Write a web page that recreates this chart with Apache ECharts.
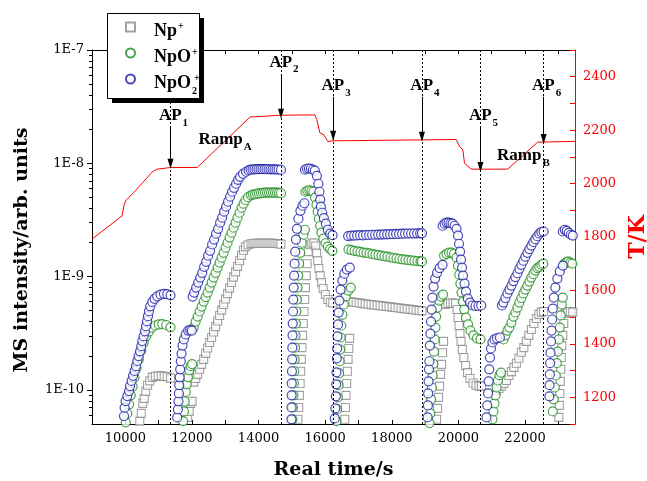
<!DOCTYPE html>
<html><head><meta charset="utf-8">
<script src="https://cdn.jsdelivr.net/npm/echarts@6/dist/echarts.min.js"></script>
<style>html,body{margin:0;padding:0;background:#fff}#c{width:647px;height:481px}</style>
</head><body><div id="c"></div>
<script>
// ---------- axis ticks / labels ----------
const xTickLabels = [10000, 12000, 14000, 16000, 18000, 20000, 22000];
const xTickValues = [9000,10000,11000,12000,13000,14000,15000,16000,17000,18000,19000,20000,21000,22000,23000];
const yDecades = [1e-10, 1e-9, 1e-8, 1e-7];
const yMinorTicks = [6e-11,7e-11,8e-11,9e-11,2e-10,3e-10,4e-10,5e-10,6e-10,7e-10,8e-10,9e-10,
  2e-9,3e-9,4e-9,5e-9,6e-9,7e-9,8e-9,9e-9,2e-8,3e-8,4e-8,5e-8,6e-8,7e-8,8e-8,9e-8];
const tempLabels = [1200, 1400, 1600, 1800, 2000, 2200, 2400];

// ---------- annotations ----------
const apTimes = [11357, 14673, 16239, 18905, 20662, 22558];
const apNames = ['1', '2', '3', '4', '5', '6'];
const apArrowTop = [2209, 2407, 2325, 2325, 2212, 2325];
const apArrowTip = [2074, 2261, 2179, 2175, 2062, 2167];
const apLabelT = [2252, 2451, 2364, 2364, 2252, 2364];
const rampNames = ['A', 'B'];
const rampTimes = [12995, 21950];
const rampLabelT = [2162, 2102];

// ---------- temperature (T/K) ----------
const tempPoints = [[9000,1792],[9901,1879],[9970,1924],[10030,1939],[10240,1965],[10540,2006],[10810,2044],
  [10960,2054],[11350,2060],[12157,2060],[13745,2249],[14700,2256],[15690,2257],[15750,2239],[15840,2190],
  [15960,2183],[16080,2157],[16200,2160],[19934,2165],[20033,2139],[20133,2126],[20183,2076],[20384,2054],
  [21480,2054],[22379,2155],[23500,2158]];

// ---------- Np+ ----------
const npPoints = [
  [10435,5.3e-11],[10480,6.2e-11],[10524,7.6e-11],[10569,8.42e-11],[10614,9.7e-11],[10668,1.10e-10],[10734,1.20e-10],
  [10809,1.29e-10],[10899,1.32e-10],[10989,1.33e-10],[11079,1.33e-10],[11168,1.32e-10],[11258,1.31e-10],[11357,1.27e-10],
  [11872,5.72e-11],[11917,6.46e-11],[11962,7.6e-11],[12007,7.92e-11],
  [12052,1.17e-10],[12112,1.26e-10],[12172,1.37e-10],[12232,1.52e-10],[12292,1.68e-10],[12352,1.86e-10],[12412,2.10e-10],
  [12471,2.34e-10],[12531,2.62e-10],[12591,2.90e-10],[12651,3.24e-10],[12711,3.62e-10],[12771,4.05e-10],[12831,4.54e-10],
  [12891,5.06e-10],[12950,5.67e-10],[13010,6.34e-10],[13070,7.08e-10],[13130,7.91e-10],[13190,8.86e-10],[13250,9.9e-10],
  [13310,1.1e-9],[13370,1.23e-9],[13430,1.38e-9],[13490,1.54e-9],[13550,1.71e-9],[13609,1.84e-9],[13684,1.91e-9],
  [13774,1.95e-9],[13834,1.96e-9],[13894,1.97e-9],[13954,1.97e-9],[14014,1.97e-9],[14074,1.97e-9],[14134,1.97e-9],
  [14194,1.97e-9],[14254,1.97e-9],[14314,1.97e-9],[14374,1.97e-9],[14434,1.97e-9],[14494,1.96e-9],[14554,1.96e-9],
  [14614,1.95e-9],[14673,1.93e-9],
  [15182,5.5e-11],[15206,7.0e-11],[15227,8.95e-11],[15248,1.14e-10],[15266,1.46e-10],[15284,1.86e-10],[15302,2.36e-10],
  [15323,3.03e-10],[15344,3.85e-10],[15364,4.92e-10],[15385,6.27e-10],[15406,8.0e-10],[15431,1.02e-9],[15457,1.30e-9],
  [15490,1.66e-9],[15541,1.91e-9],[15601,1.98e-9],[15661,1.98e-9],[15715,1.86e-9],[15745,1.61e-9],[15775,1.38e-9],
  [15811,1.18e-9],[15850,1.02e-9],[15892,8.86e-10],[15940,7.84e-10],[16005,6.94e-10],[16080,6.27e-10],[16155,5.96e-10],
  [16230,5.84e-10],
  [16589,5.5e-11],[16607,7.0e-11],[16625,8.95e-11],[16646,1.14e-10],[16667,1.46e-10],[16688,1.86e-10],[16709,2.32e-10],
  [16733,2.85e-10],
  [16750,6.0e-10],[16840,5.95e-10],[16930,5.9e-10],[17020,5.85e-10],[17110,5.8e-10],[17200,5.75e-10],[17290,5.7e-10],
  [17380,5.66e-10],[17470,5.62e-10],[17560,5.58e-10],[17650,5.54e-10],[17740,5.5e-10],[17830,5.46e-10],[17920,5.42e-10],
  [18010,5.38e-10],[18100,5.34e-10],[18190,5.3e-10],[18280,5.26e-10],[18370,5.22e-10],[18460,5.18e-10],[18550,5.14e-10],
  [18640,5.1e-10],[18730,5.06e-10],[18820,5.02e-10],[18905,4.98e-10],
  [19344,5.5e-11],[19374,6.87e-11],[19404,8.59e-11],[19434,1.08e-10],[19464,1.37e-10],[19494,1.68e-10],[19524,2.13e-10],
  [19554,2.68e-10],
  [19614,5.67e-10],[19689,5.78e-10],[19764,5.84e-10],[19839,5.84e-10],[19914,5.78e-10],[19959,5.12e-10],[19989,4.35e-10],
  [20019,3.70e-10],[20049,3.14e-10],[20079,2.68e-10],[20118,2.27e-10],[20163,1.93e-10],[20213,1.64e-10],[20273,1.42e-10],
  [20348,1.26e-10],[20438,1.15e-10],[20528,1.10e-10],[20618,1.08e-10],[20693,1.08e-10],
  [21142,9.9e-11],[21217,1.03e-10],[21292,1.08e-10],[21366,1.14e-10],[21441,1.21e-10],[21516,1.34e-10],[21591,1.45e-10],
  [21666,1.58e-10],[21741,1.72e-10],[21816,1.90e-10],[21890,2.15e-10],[21965,2.36e-10],[22040,2.68e-10],[22115,3.03e-10],
  [22190,3.41e-10],[22265,3.85e-10],[22340,4.27e-10],[22415,4.64e-10],[22489,4.86e-10],[22558,4.92e-10],
  [23014,5.72e-11],[23029,7.3e-11],[23044,9.3e-11],[23059,1.19e-10],[23074,1.52e-10],[23089,1.93e-10],[23103,2.46e-10],
  [23133,3.03e-10],[23163,3.85e-10],[23208,4.72e-10],[23283,4.86e-10],[23358,4.92e-10],[23433,4.86e-10]
];

// ---------- NpO+ ----------
const npoPoints = [
  [10015,5.17e-11],[10060,6.2e-11],[10114,7.46e-11],[10165,8.95e-11],[10219,1.07e-10],[10276,1.29e-10],[10336,1.55e-10],
  [10405,1.86e-10],[10480,2.22e-10],[10554,2.62e-10],[10629,2.97e-10],[10704,3.27e-10],[10794,3.55e-10],[10899,3.70e-10],
  [11004,3.78e-10],[11108,3.81e-10],[11228,3.74e-10],[11357,3.57e-10],
  [11737,5.3e-11],[11761,6.46e-11],[11785,7.9e-11],[11815,9.6e-11],[11845,1.12e-10],[11881,1.29e-10],[11917,1.49e-10],
  [11962,1.62e-10],[12007,1.69e-10],
  [12052,3.55e-10],[12112,4.01e-10],[12172,4.44e-10],[12232,4.92e-10],[12292,5.44e-10],[12352,6.02e-10],[12412,6.6e-10],
  [12471,7.23e-10],[12531,8.0e-10],[12591,8.86e-10],[12651,9.8e-10],[12711,1.08e-9],[12771,1.2e-9],[12831,1.33e-9],
  [12891,1.47e-9],[12950,1.62e-9],[13010,1.80e-9],[13070,1.99e-9],[13130,2.21e-9],[13190,2.44e-9],[13250,2.70e-9],
  [13310,2.99e-9],[13370,3.31e-9],[13430,3.66e-9],[13490,4.06e-9],[13550,4.40e-9],[13609,4.72e-9],[13684,5.02e-9],
  [13774,5.22e-9],[13834,5.30e-9],[13894,5.33e-9],[13954,5.38e-9],[14014,5.42e-9],[14074,5.45e-9],[14134,5.48e-9],
  [14194,5.50e-9],[14254,5.52e-9],[14314,5.52e-9],[14374,5.52e-9],[14434,5.52e-9],[14494,5.52e-9],[14554,5.50e-9],
  [14614,5.48e-9],[14673,5.44e-9],
  [15017,5.5e-11],[15032,7.0e-11],[15047,8.95e-11],[15062,1.14e-10],[15074,1.46e-10],[15086,1.86e-10],[15098,2.36e-10],
  [15110,3.03e-10],[15122,3.85e-10],[15137,4.92e-10],[15152,6.27e-10],[15170,8.0e-10],[15191,1.02e-9],[15218,1.30e-9],
  [15251,1.62e-9],[15296,1.99e-9],[15347,2.34e-9],[15392,2.59e-9],
  [15406,5.61e-9],[15466,5.72e-9],[15526,5.78e-9],[15586,5.72e-9],[15646,5.61e-9],[15700,4.97e-9],[15739,4.31e-9],
  [15775,3.74e-9],[15811,3.24e-9],[15850,2.81e-9],[15889,2.44e-9],[15946,2.16e-9],[16011,1.97e-9],[16080,1.84e-9],
  [16149,1.75e-9],[16215,1.69e-9],
  [16335,5.3e-11],[16356,6.73e-11],[16380,8.59e-11],[16401,1.10e-10],[16419,1.40e-10],[16434,1.79e-10],[16449,2.27e-10],
  [16464,2.90e-10],[16485,3.70e-10],[16515,4.6e-10],[16560,5.67e-10],[16620,6.7e-10],[16695,7.52e-10],[16769,8.0e-10],
  [16700,1.74e-9],[16790,1.71e-9],[16880,1.69e-9],[16970,1.67e-9],[17060,1.65e-9],[17150,1.63e-9],[17240,1.62e-9],
  [17330,1.60e-9],[17420,1.58e-9],[17510,1.56e-9],[17600,1.55e-9],[17690,1.53e-9],[17780,1.51e-9],[17870,1.50e-9],
  [17960,1.48e-9],[18050,1.46e-9],[18140,1.45e-9],[18230,1.43e-9],[18320,1.42e-9],[18410,1.41e-9],[18500,1.40e-9],
  [18590,1.39e-9],[18680,1.38e-9],[18770,1.37e-9],[18860,1.36e-9],[18905,1.36e-9],
  [19135,5.1e-11],[19156,6.2e-11],[19180,8.25e-11],[19204,1.05e-10],[19225,1.34e-10],[19246,1.70e-10],[19267,2.18e-10],
  [19288,2.79e-10],[19309,3.55e-10],[19333,4.44e-10],[19369,5.33e-10],[19420,6.14e-10],[19480,6.66e-10],[19540,6.94e-10],
  [19570,1.53e-9],[19644,1.59e-9],[19719,1.63e-9],[19794,1.63e-9],[19869,1.59e-9],[19944,1.47e-9],[19989,1.25e-9],
  [20025,1.04e-9],[20058,8.68e-10],[20094,7.23e-10],[20133,6.02e-10],[20178,5.12e-10],[20228,4.35e-10],[20288,3.79e-10],
  [20363,3.34e-10],[20453,3.03e-10],[20558,2.85e-10],[20663,2.79e-10],
  [21022,5.5e-11],[21052,6.46e-11],[21082,7.6e-11],[21112,8.95e-11],[21148,1.05e-10],[21187,1.21e-10],[21232,1.35e-10],
  [21277,1.42e-10],
  [21351,2.79e-10],[21411,3.03e-10],[21471,3.34e-10],[21531,3.55e-10],[21591,3.93e-10],[21651,4.44e-10],[21711,4.82e-10],
  [21771,5.33e-10],[21830,5.9e-10],[21890,6.47e-10],[21950,7.1e-10],[22010,7.68e-10],[22070,8.33e-10],[22130,9.04e-10],
  [22190,9.8e-10],[22250,1.05e-9],[22310,1.13e-9],[22369,1.19e-9],[22429,1.22e-9],[22489,1.27e-9],[22549,1.30e-9],
  [22834,6.46e-11],[22864,8.25e-11],[22894,1.05e-10],[22924,1.34e-10],[22954,1.72e-10],[22984,2.18e-10],[23014,2.79e-10],
  [23044,3.55e-10],[23073,4.54e-10],[23103,5.67e-10],[23133,6.53e-10],
  [23178,1.30e-9],[23238,1.34e-9],[23298,1.36e-9],[23358,1.33e-9],[23418,1.30e-9]
];

// ---------- NpO2+ ----------
const npo2Points = [
  [9961,5.88e-11],[9979,6.97e-11],[10009,7.97e-11],[10060,8.82e-11],[10111,9.76e-11],[10141,1.08e-10],[10189,1.20e-10],
  [10231,1.33e-10],[10279,1.47e-10],[10321,1.62e-10],[10360,1.80e-10],[10399,1.99e-10],[10441,2.19e-10],[10480,2.43e-10],
  [10510,2.70e-10],[10548,2.98e-10],[10590,3.29e-10],[10620,3.65e-10],[10650,4.04e-10],[10680,4.47e-10],[10710,4.95e-10],
  [10749,5.47e-10],[10809,5.98e-10],[10878,6.36e-10],[10959,6.70e-10],[11058,6.94e-10],[11159,7.04e-10],[11258,7.00e-10],
  [11357,6.84e-10],
  [11558,5.72e-11],[11579,6.73e-11],[11597,7.92e-11],[11609,9.31e-11],[11618,1.10e-10],[11633,1.29e-10],[11648,1.52e-10],
  [11666,1.79e-10],[11687,2.09e-10],[11717,2.46e-10],[11759,2.79e-10],[11812,3.09e-10],[11887,3.34e-10],[11950,3.38e-10],
  [11998,3.34e-10],
  [12022,6.66e-10],[12067,7.23e-10],[12127,8.0e-10],[12187,8.86e-10],[12247,9.8e-10],[12307,1.08e-9],[12367,1.22e-9],
  [12426,1.35e-9],[12486,1.53e-9],[12546,1.69e-9],[12606,1.92e-9],[12666,2.12e-9],[12726,2.39e-9],[12786,2.64e-9],
  [12846,2.99e-9],[12906,3.31e-9],[12966,3.74e-9],[13025,4.14e-9],[13085,4.58e-9],[13145,5.07e-9],[13205,5.61e-9],
  [13265,6.08e-9],[13325,6.60e-9],[13385,7.15e-9],[13445,7.60e-9],[13534,8.08e-9],[13624,8.42e-9],[13700,8.65e-9],
  [13760,8.78e-9],[13820,8.82e-9],[13880,8.85e-9],[13940,8.87e-9],[14000,8.88e-9],[14060,8.88e-9],[14120,8.88e-9],
  [14180,8.88e-9],[14240,8.87e-9],[14300,8.86e-9],[14360,8.85e-9],[14420,8.84e-9],[14480,8.83e-9],[14540,8.82e-9],
  [14600,8.80e-9],[14673,8.77e-9],
  [14987,5.5e-11],[14990,7.0e-11],[14993,8.95e-11],[14996,1.14e-10],[15002,1.46e-10],[15008,1.86e-10],[15014,2.36e-10],
  [15020,3.03e-10],[15026,3.85e-10],[15035,4.92e-10],[15044,6.27e-10],[15056,8.0e-10],[15068,1.02e-9],[15083,1.30e-9],
  [15101,1.66e-9],[15122,2.12e-9],[15152,2.64e-9],[15197,3.24e-9],[15257,3.81e-9],[15317,4.22e-9],[15376,4.44e-9],
  [15392,8.77e-9],[15451,8.95e-9],[15511,9.0e-9],[15571,8.95e-9],[15631,8.77e-9],[15691,8.6e-9],[15751,7.76e-9],
  [15796,6.60e-9],[15826,5.61e-9],[15850,4.77e-9],[15871,4.14e-9],[15910,3.66e-9],[15960,3.28e-9],[16020,2.93e-9],
  [16080,2.59e-9],[16149,2.39e-9],[16221,2.32e-9],
  [16289,5.6e-11],[16305,6.87e-11],[16320,8.77e-11],[16332,1.12e-10],[16341,1.43e-10],[16350,1.90e-10],[16359,2.32e-10],
  [16371,2.97e-10],[16386,3.78e-10],[16404,4.81e-10],[16428,6.14e-10],[16464,7.68e-10],[16515,9.22e-10],[16575,1.06e-9],
  [16650,1.153e-9],[16739,1.20e-9],
  [16690,2.28e-9],[16780,2.30e-9],[16870,2.30e-9],[16960,2.31e-9],[17050,2.32e-9],[17140,2.31e-9],[17230,2.33e-9],
  [17320,2.33e-9],[17410,2.34e-9],[17500,2.34e-9],[17590,2.35e-9],[17680,2.35e-9],[17770,2.36e-9],[17860,2.36e-9],
  [17950,2.37e-9],[18040,2.37e-9],[18130,2.38e-9],[18220,2.38e-9],[18310,2.39e-9],[18400,2.39e-9],[18490,2.40e-9],
  [18580,2.40e-9],[18670,2.40e-9],[18760,2.41e-9],[18850,2.41e-9],[18905,2.41e-9],
  [19075,5.72e-11],[19084,7.3e-11],[19093,9.31e-11],[19105,1.19e-10],[19117,1.52e-10],[19129,1.79e-10],[19144,2.46e-10],
  [19159,3.14e-10],[19177,4.01e-10],[19195,5.12e-10],[19219,6.53e-10],[19255,8.16e-10],[19300,9.6e-10],[19360,1.08e-9],
  [19434,1.19e-9],[19524,1.27e-9],
  [19525,2.81e-9],[19585,2.93e-9],[19644,3.0e-9],[19704,3.0e-9],[19764,2.96e-9],[19824,2.93e-9],[19884,2.81e-9],
  [19944,2.64e-9],[19989,2.30e-9],[20019,1.95e-9],[20049,1.66e-9],[20079,1.41e-9],[20109,1.2e-9],[20138,1.02e-9],
  [20183,8.68e-10],[20228,7.37e-10],[20282,6.4e-10],[20348,5.9e-10],[20423,5.56e-10],[20513,5.5e-10],[20603,5.5e-10],
  [20684,5.56e-10],
  [20842,5.72e-11],[20866,7.3e-11],[20890,9.31e-11],[20908,1.19e-10],[20926,1.52e-10],[20947,1.93e-10],[20977,2.32e-10],
  [21022,2.62e-10],[21082,2.79e-10],[21157,2.85e-10],[21246,2.9e-10],
  [21307,5.56e-10],[21351,5.9e-10],[21411,6.47e-10],[21471,7.1e-10],[21531,7.68e-10],[21591,8.33e-10],[21651,9.13e-10],
  [21711,9.9e-10],[21771,1.07e-9],[21830,1.17e-9],[21890,1.27e-9],[21950,1.38e-9],[22010,1.50e-9],[22070,1.62e-9],
  [22130,1.75e-9],[22190,1.88e-9],[22250,2.02e-9],[22310,2.14e-9],[22369,2.27e-9],[22429,2.39e-9],[22489,2.47e-9],
  [22558,2.5e-9],
  [22730,8.77e-11],[22736,1.10e-10],[22745,1.37e-10],[22754,1.72e-10],[22765,2.13e-10],[22780,2.68e-10],[22795,3.34e-10],
  [22813,4.18e-10],[22834,5.22e-10],[22864,6.53e-10],[22909,8.0e-10],[22969,9.6e-10],[23044,1.11e-9],[23134,1.25e-9],
  [23134,2.5e-9],[23193,2.59e-9],[23253,2.53e-9],[23313,2.43e-9],[23373,2.34e-9],[23433,2.30e-9]
];

const seriesNames = ['Np+', 'NpO+', 'NpO2+'];
const legendText = {'Np+': '{b|Np}{p|+}', 'NpO+': '{b|NpO}{p|+}', 'NpO2+': '{b|NpO}{s|2}{p|+}'};

const GRAY = '#8a8a8a', GREEN = '#1e8c1e', BLUE = '#1c1ca8', RED = '#ff0000';
const BOLD = 'Liberation Serif';
const SERIF = 'DejaVu Serif';

const annoRich = {
  a: {fontFamily: BOLD, fontWeight: 'bold', fontSize: 17, color: '#000', lineHeight: 18, verticalAlign: 'top'},
  s: {fontFamily: BOLD, fontWeight: 'bold', fontSize: 11, color: '#000', lineHeight: 11, verticalAlign: 'top', padding: [10, 0, 0, 1]}
};

const chart = echarts.init(document.getElementById('c'), null, {renderer: 'canvas'});

const markLineData = apTimes.map(t => ({xAxis: t, lineStyle: {color: '#000', width: 1, type: [2, 2]}}))
  .concat(apTimes.map((t, i) => [
    {coord: [t, apArrowTop[i]], symbol: 'none', lineStyle: {color: '#000', width: 1, type: 'solid'}},
    {coord: [t, apArrowTip[i]], symbol: 'triangle', symbolSize: [6, 10], symbolRotate: 180}
  ]));

const markPointData = apTimes.map((t, i) => ({
  coord: [t, apLabelT[i]],
  label: {formatter: '{a|AP}{s|' + apNames[i] + '}', offset: [3, 0]}
})).concat(rampTimes.map((t, i) => ({
  coord: [t, rampLabelT[i]],
  label: {formatter: '{a|Ramp}{s|' + rampNames[i] + '}'}
})));

const option = {
  animation: false,
  backgroundColor: '#fff',
  grid: {left: 92, right: 72, top: 50, bottom: 57, containLabel: false, outerBoundsMode: 'none'},
  graphic: [
    {type: 'rect', z: 15, shape: {x: 112, y: 18, width: 92, height: 85}, style: {fill: '#000'}, silent: true},
    {type: 'rect', z: 16, shape: {x: 107.5, y: 13.5, width: 92, height: 85}, style: {fill: '#fff', stroke: '#000', lineWidth: 1}, silent: true}
  ],
  legend: {
    data: seriesNames,
    orient: 'vertical', left: 107, top: 13, z: 20,
    padding: [5, 4, 3, 18], itemGap: 4, itemWidth: 9, itemHeight: 9,
    backgroundColor: 'transparent', borderWidth: 0,
    formatter: n => legendText[n],
    textStyle: {
      rich: {
        b: {fontFamily: BOLD, fontWeight: 'bold', fontSize: 18, color: '#000', lineHeight: 18, padding: [4, 0, 0, 14], verticalAlign: 'top'},
        p: {fontFamily: BOLD, fontWeight: 'bold', fontSize: 10, color: '#000', lineHeight: 10, padding: [3, 0, 0, 1], verticalAlign: 'top'},
        s: {fontFamily: BOLD, fontWeight: 'bold', fontSize: 10, color: '#000', lineHeight: 10, padding: [16, 0, 0, 1], verticalAlign: 'top', width: 1}
      }
    }
  },
  xAxis: [
    {
      type: 'value', min: 9000, max: 23500, position: 'bottom',
      name: 'Real time/s', nameLocation: 'middle', nameGap: 37,
      nameTextStyle: {fontFamily: SERIF, fontWeight: 'bold', fontSize: 19, color: '#000'},
      axisLine: {show: true, lineStyle: {color: '#000', width: 1}},
      axisTick: {show: true, inside: true, length: 4, customValues: xTickValues, lineStyle: {color: '#000'}},
      axisLabel: {customValues: xTickLabels, margin: 8, fontFamily: SERIF, fontSize: 13, color: '#000', formatter: v => String(v)},
      splitLine: {show: false}
    },
    {
      type: 'value', min: 9000, max: 23500, position: 'top',
      axisLine: {show: true, lineStyle: {color: '#000', width: 1}},
      axisTick: {show: true, inside: true, length: 4, customValues: xTickValues, lineStyle: {color: '#000'}},
      axisLabel: {show: false}, splitLine: {show: false}
    }
  ],
  yAxis: [
    {
      type: 'log', logBase: 10, min: 5e-11, max: 1e-7, position: 'left',
      name: 'MS intensity/arb. units', nameLocation: 'middle', nameRotate: 90, nameGap: 60,
      nameTextStyle: {fontFamily: SERIF, fontWeight: 'bold', fontSize: 19, color: '#000', padding: [0, 26, 0, 0]},
      axisLine: {show: true, lineStyle: {color: '#000', width: 1}},
      axisTick: {show: true, inside: false, length: 5, customValues: yDecades, lineStyle: {color: '#000'}},
      axisLabel: {customValues: yDecades, margin: 8, fontFamily: SERIF, fontSize: 13, color: '#000',
        formatter: v => '1E' + Math.round(Math.log10(v))},
      splitLine: {show: false}
    },
    {
      type: 'value', min: 1100, max: 2500, interval: 100, position: 'right',
      name: 'T/K', nameLocation: 'middle', nameRotate: 90, nameGap: 50,
      nameTextStyle: {fontFamily: SERIF, fontWeight: 'bold', fontSize: 22, color: RED},
      axisLine: {show: true, lineStyle: {color: RED, width: 1}},
      axisTick: {show: true, inside: true, length: 5, lineStyle: {color: RED}},
      axisLabel: {customValues: tempLabels, margin: 8, fontFamily: SERIF, fontSize: 13, color: RED, formatter: v => String(v)},
      splitLine: {show: false}
    },
    {
      type: 'log', logBase: 10, min: 5e-11, max: 1e-7, position: 'left',
      axisLine: {show: false},
      axisTick: {show: true, inside: false, length: 3, customValues: yMinorTicks, lineStyle: {color: '#000'}},
      axisLabel: {show: false}, splitLine: {show: false}
    }
  ],
  series: [
    {name: 'Np+', type: 'scatter', xAxisIndex: 0, yAxisIndex: 0, data: npPoints, symbol: 'rect', symbolSize: 8,
      itemStyle: {color: '#fff', borderColor: GRAY, borderWidth: 1.1}, z: 2},
    {name: 'NpO+', type: 'scatter', xAxisIndex: 0, yAxisIndex: 0, data: npoPoints, symbol: 'circle', symbolSize: 9,
      itemStyle: {color: '#fff', borderColor: GREEN, borderWidth: 1.2}, z: 2},
    {name: 'NpO2+', type: 'scatter', xAxisIndex: 0, yAxisIndex: 0, data: npo2Points, symbol: 'circle', symbolSize: 9,
      itemStyle: {color: '#fff', borderColor: BLUE, borderWidth: 1.2}, z: 2},
    {name: 'T', type: 'line', xAxisIndex: 0, yAxisIndex: 1, data: tempPoints, showSymbol: false, symbol: 'none',
      lineStyle: {color: RED, width: 1}, z: 3,
      markLine: {silent: true, symbol: ['none', 'none'], label: {show: false}, animation: false, data: markLineData},
      markPoint: {silent: true, symbol: 'rect', symbolSize: 1, itemStyle: {color: 'rgba(0,0,0,0)'},
        label: {show: true, position: 'inside', color: '#000', rich: annoRich}, data: markPointData}
    }
  ]
};
chart.setOption(option);
</script>
</body></html>
